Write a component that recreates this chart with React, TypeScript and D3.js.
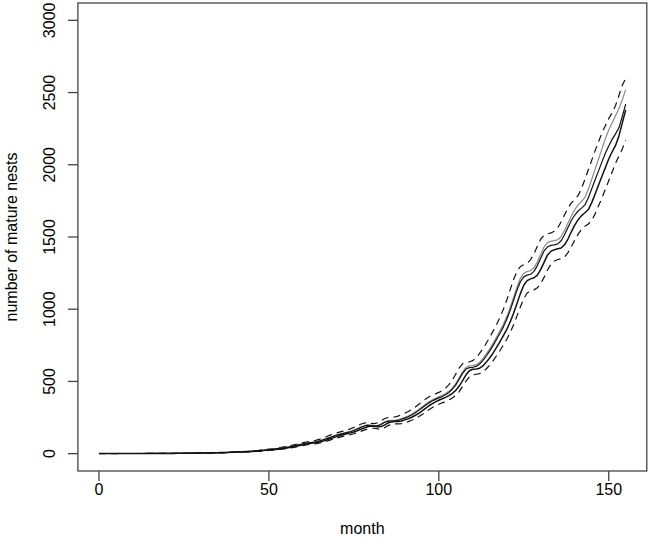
import React from "react";
import * as d3 from "d3";

const months: number[] = Array.from({ length: 156 }, (_, i) => i);

const upperBlack: number[] = [
  1,1,1,1,1,1,1,1,1,1,
  1,1,1,1,2,2,2,2,2,2,
  2,2,3,3,3,3,3,4,4,4,
  5,5,5,6,6,7,7,8,9,10,
  11,12,13,14,15,17,19,21,23,25,
  27,30,33,36,39,43,47,52,57,62,
  68,72,75,78,82,88,96,104,112,120,
  128,134,140,146,152,160,170,180,190,196,
  194,190,192,202,216,224,226,226,230,238,
  246,256,268,282,298,316,334,350,364,376,
  386,396,408,424,446,476,516,556,586,596,
  598,604,620,646,678,712,750,792,834,878,
  930,992,1062,1132,1190,1224,1236,1242,1262,1302,
  1354,1404,1432,1442,1446,1452,1474,1516,1566,1614,
  1652,1680,1700,1722,1772,1834,1896,1958,2020,2080,
  2130,2176,2214,2256,2336,2420,
];

const lowerBlack: number[] = [
  1,1,1,1,1,1,1,1,1,1,
  1,1,1,1,1,2,2,2,2,2,
  2,2,2,3,3,3,3,3,4,4,
  4,5,5,5,6,6,7,7,8,9,
  10,11,12,13,14,15,17,19,21,23,
  25,27,29,32,35,38,42,46,51,56,
  61,67,71,74,77,81,87,95,103,111,
  118,126,132,138,144,150,158,168,177,186,
  192,190,186,188,198,212,220,222,222,226,
  234,242,252,264,278,294,312,330,344,358,
  370,380,390,402,418,438,468,506,546,574,
  584,586,592,608,634,664,698,736,776,818,
  860,912,972,1040,1108,1166,1198,1210,1218,1236,
  1276,1326,1376,1402,1412,1418,1424,1446,1486,1536,
  1582,1620,1648,1668,1690,1738,1798,1860,1920,1980,
  2040,2090,2134,2200,2290,2380,
];

const grayLine: number[] = [
  1,1,1,1,1,1,1,1,1,1,
  1,1,1,1,2,2,2,2,2,2,
  2,2,3,3,3,3,3,4,4,4,
  5,5,5,6,6,7,7,8,9,10,
  11,12,13,14,15,17,19,21,23,25,
  27,30,33,36,39,43,47,52,57,62,
  69,73,76,80,84,90,98,106,114,122,
  131,137,143,149,155,163,173,184,194,200,
  198,194,196,206,220,228,231,231,235,243,
  251,261,273,288,304,322,341,357,371,384,
  394,404,416,432,455,486,526,567,598,608,
  610,616,632,659,692,726,765,808,851,896,
  949,1012,1083,1155,1214,1248,1261,1267,1287,1328,
  1381,1432,1461,1471,1475,1481,1503,1546,1597,1646,
  1690,1722,1746,1774,1830,1900,1970,2040,2110,2180,
  2240,2290,2340,2390,2450,2520,
];

const upperDashed: number[] = [
  1,1,1,1,1,1,1,1,1,1,
  1,1,1,2,2,2,2,2,2,3,
  3,3,3,3,4,4,4,4,5,5,
  5,6,6,7,7,8,9,9,10,11,
  12,13,14,16,17,19,21,23,26,28,
  31,34,37,41,45,49,54,59,65,70,
  76,80,84,88,94,101,110,119,128,136,
  144,151,157,164,172,182,193,204,212,214,
  210,208,214,228,242,250,252,254,260,270,
  280,292,306,322,340,358,376,392,404,414,
  424,436,454,478,510,552,594,622,632,636,
  644,664,694,728,766,806,850,894,944,1000,
  1064,1136,1206,1262,1296,1308,1318,1342,1384,1436,
  1486,1512,1522,1528,1540,1564,1606,1654,1700,1736,
  1760,1788,1836,1900,1966,2032,2098,2160,2220,2270,
  2320,2360,2410,2480,2550,2600,
];

const lowerDashed: number[] = [
  0,0,0,0,0,0,1,1,1,1,
  1,1,1,1,1,1,1,1,1,2,
  2,2,2,2,2,3,3,3,3,3,
  4,4,4,5,5,5,6,6,7,8,
  8,9,10,11,12,13,15,16,18,20,
  22,24,26,29,32,35,38,42,46,50,
  55,60,64,67,70,74,79,86,94,101,
  108,115,121,127,132,138,145,154,163,171,
  176,176,172,172,180,194,202,206,206,208,
  214,222,231,242,255,270,286,303,318,331,
  342,352,361,372,386,404,430,466,503,532,
  546,550,554,566,588,614,644,678,714,752,
  792,838,892,954,1016,1074,1112,1128,1134,1148,
  1178,1222,1272,1312,1334,1344,1350,1362,1392,1434,
  1478,1520,1552,1574,1590,1616,1660,1716,1770,1830,
  1890,1950,2010,2060,2110,2170,
];

const xTicks: number[] = [0, 50, 100, 150];
const yTicks: number[] = [0, 500, 1000, 1500, 2000, 2500, 3000];
const xLabel = "month";
const yLabel = "number of mature nests";

export default function App() {
  const W = 650, H = 549;
  const left = 77.9, right = 646.8, top = 3, bottom = 471;
  const x = d3.scaleLinear().domain([-6.2, 161.2]).range([left, right]);
  const y = d3.scaleLinear().domain([-120, 3120]).range([bottom, top]);
  const line = d3.line<number>().x((_, i) => x(months[i])).y((d) => y(d));
  const font = "Liberation Sans, Arial, sans-serif";
  const fs = 16;

  const series = [
    { data: lowerDashed, stroke: "#111", w: 1.2, dash: "7,5" },
    { data: upperDashed, stroke: "#111", w: 1.2, dash: "7,5" },
    { data: grayLine, stroke: "#8a8a8a", w: 1.2, dash: "" },
    { data: upperBlack, stroke: "#111", w: 1.2, dash: "" },
    { data: lowerBlack, stroke: "#111", w: 1.5, dash: "" },
  ];

  return (
    <svg width={W} height={H} style={{ position: "absolute", left: 0, top: 0, background: "#fff" }}>
      <rect x={0} y={0} width={W} height={H} fill="#fff" />
      {series.map((s, i) => (
        <path key={i} d={line(s.data) || ""} fill="none" stroke={s.stroke}
          strokeWidth={s.w} strokeDasharray={s.dash || undefined} strokeLinejoin="round" />
      ))}
      <rect x={left} y={top} width={right - left} height={bottom - top} fill="none" stroke="#444" strokeWidth={1.3} />
      {xTicks.map((t) => (
        <g key={t}>
          <line x1={x(t)} x2={x(t)} y1={bottom} y2={bottom + 10} stroke="#444" strokeWidth={1.3} />
          <text x={x(t)} y={495} textAnchor="middle" fontFamily={font} fontSize={fs} fill="#000">{t}</text>
        </g>
      ))}
      {yTicks.map((t) => (
        <g key={t}>
          <line x1={left - 10} x2={left} y1={y(t)} y2={y(t)} stroke="#444" strokeWidth={1.3} />
          <text transform={`translate(55,${y(t)}) rotate(-90)`} textAnchor="middle" fontFamily={font} fontSize={fs} fill="#000">{t}</text>
        </g>
      ))}
      <text x={(left + right) / 2} y={534} textAnchor="middle" fontFamily={font} fontSize={fs} fill="#000">{xLabel}</text>
      <text transform={`translate(17,${(top + bottom) / 2}) rotate(-90)`} textAnchor="middle" fontFamily={font} fontSize={fs} fill="#000">{yLabel}</text>
    </svg>
  );
}
